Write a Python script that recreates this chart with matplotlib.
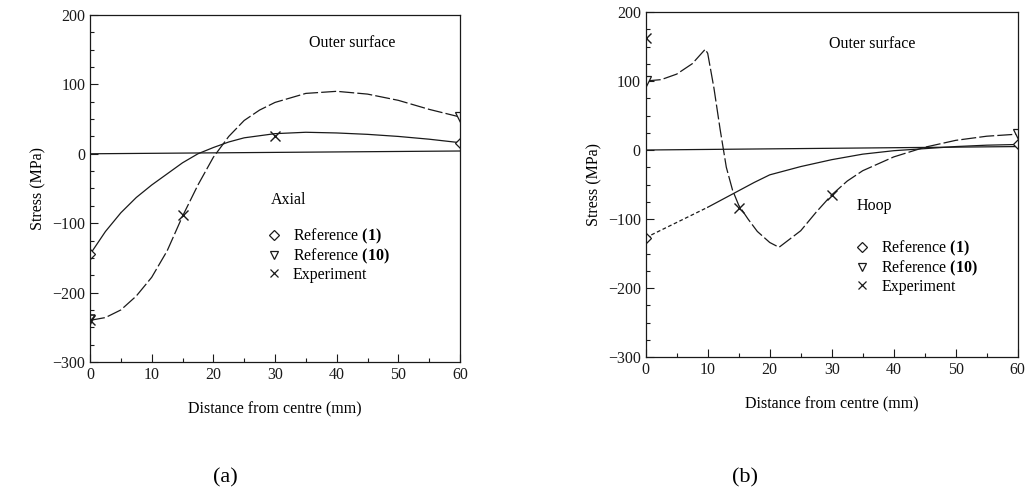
import matplotlib
matplotlib.use("Agg")
import matplotlib.pyplot as plt
from matplotlib.lines import Line2D
from matplotlib.ticker import MultipleLocator

plt.rcParams['font.family'] = ['Liberation Serif', 'DejaVu Serif']
plt.rcParams['mathtext.fontset'] = 'custom'
plt.rcParams['mathtext.bf'] = 'Liberation Serif:bold'
plt.rcParams['mathtext.rm'] = 'Liberation Serif'

INK = '#1a1a1a'
FS = 11.5

# (a) axial stress
a_ref1_x = [0, 2.5, 5, 7.5, 10, 12.5, 15, 17.5, 20, 22.5, 25, 30, 35, 40, 45, 50, 55, 60]
a_ref1_y = [-145, -112, -85, -63, -45, -29, -13, 0, 9, 17, 23, 29, 31, 30, 28, 25, 21, 16]
a_ref10_x = [0, 2.5, 5, 7.5, 10, 12.5, 15, 17.5, 20, 22.5, 25, 27.5, 30, 35, 40, 45, 50, 55, 60]
a_ref10_y = [-240, -236, -225, -205, -178, -140, -90, -45, -5, 25, 48, 63, 74, 87, 90, 86, 77, 64, 53]
a_exp_x = [0, 15, 30]
a_exp_y = [-240, -88, 25]
a_zero_y = [0, 4]

# (b) hoop stress
b_ref1_x = [0, 2.5, 5, 7.5, 10, 12.5, 15, 17.5, 20, 25, 30, 35, 40, 45, 50, 55, 60]
b_ref1_y = [-127, -116, -105, -94, -83, -71, -59, -47, -36, -24, -14, -6, -1, 2, 5, 7, 8]
b_ref10_x = [0, 2.5, 5, 7.5, 9.6, 10, 11, 12, 13, 14, 15, 16.5, 18, 20, 21.5,
             25, 27.5, 30, 32.5, 35, 40, 45, 50, 55, 60]
b_ref10_y = [100, 102, 110, 125, 146, 140, 90, 30, -25, -58, -80, -100, -118, -134, -141,
             -117, -90, -65, -45, -30, -10, 4, 14, 20, 23]
b_exp_x = [0, 15, 30]
b_exp_y = [162, -84, -65]
b_zero_y = [0, 5]

legend_labels = ['Reference $\\mathbf{(1)}$', 'Reference $\\mathbf{(10)}$', 'Experiment']


def style_axes(ax):
    ax.set_xlim(0, 60)
    ax.set_ylim(-300, 200)
    ax.xaxis.set_major_locator(MultipleLocator(10))
    ax.xaxis.set_minor_locator(MultipleLocator(5))
    ax.yaxis.set_major_locator(MultipleLocator(100))
    ax.yaxis.set_minor_locator(MultipleLocator(25))
    ax.tick_params(which='both', direction='in', colors=INK, labelsize=FS, width=0.8)
    ax.tick_params(which='major', length=6)
    ax.tick_params(which='minor', length=3)
    for s in ax.spines.values():
        s.set_linewidth(0.9)
        s.set_color(INK)
    ax.set_ylabel('Stress (MPa)', fontsize=FS, labelpad=4)
    ax.set_xlabel('Distance from centre (mm)', fontsize=FS, labelpad=13)


def draw_legend(ax, anchor):
    handles = [
        Line2D([], [], ls='none', marker='D', ms=5.5, mfc='none', mec=INK, mew=0.9),
        Line2D([], [], ls='none', marker='v', ms=6, mfc='none', mec=INK, mew=0.9),
        Line2D([], [], ls='none', marker='x', ms=5.5, mec=INK, mew=0.9),
    ]
    ax.legend(handles, legend_labels, loc='upper left', bbox_to_anchor=anchor,
              frameon=False, fontsize=FS, handlelength=1.0, handletextpad=0.7,
              labelspacing=0.05, borderpad=0, borderaxespad=0)


fig = plt.figure(figsize=(10.3, 4.96), dpi=100)
ax1 = fig.add_axes([0.0874, 0.2702, 0.3592, 0.6996])
ax2 = fig.add_axes([0.6269, 0.2802, 0.3612, 0.6956])

# panel (a)
ax1.plot([0, 60], a_zero_y, color=INK, lw=0.9)
ax1.plot(a_ref1_x, a_ref1_y, color=INK, lw=0.9)
ax1.plot(a_ref10_x, a_ref10_y, color=INK, lw=0.9, dashes=(12, 2.5))
ax1.plot(a_ref1_x[0], a_ref1_y[0], 'D', ms=5.5, mfc='white', mec=INK, mew=0.9)
ax1.plot(a_ref1_x[-1], a_ref1_y[-1], 'D', ms=5.5, mfc='white', mec=INK, mew=0.9)
ax1.plot(a_ref10_x[0], a_ref10_y[0], 'v', ms=6.5, mfc='white', mec=INK, mew=1.2)
ax1.plot(a_ref10_x[-1], a_ref10_y[-1], 'v', ms=6.5, mfc='white', mec=INK, mew=0.9)
ax1.plot(a_exp_x, a_exp_y, 'x', ms=6.5, mec=INK, mew=1.0, ls='none')
style_axes(ax1)
ax1.text(42.5, 160, 'Outer surface', ha='center', va='center', fontsize=FS)
ax1.text(29.3, -66, 'Axial', ha='left', va='center', fontsize=FS)
draw_legend(ax1, (0.475, 0.39))

# panel (b)
ax2.plot([0, 60], b_zero_y, color=INK, lw=0.9)
ax2.plot(b_ref1_x[:5], b_ref1_y[:5], color=INK, lw=0.9, dashes=(3, 2))
ax2.plot(b_ref1_x[4:], b_ref1_y[4:], color=INK, lw=0.9)
ax2.plot(b_ref10_x, b_ref10_y, color=INK, lw=0.9, dashes=(12, 2.5))
ax2.plot(b_ref1_x[0], b_ref1_y[0], 'D', ms=5.5, mfc='white', mec=INK, mew=0.9)
ax2.plot(b_ref1_x[-1], b_ref1_y[-1], 'D', ms=5.5, mfc='white', mec=INK, mew=0.9)
ax2.plot(b_ref10_x[0], b_ref10_y[0], 'v', ms=6.5, mfc='white', mec=INK, mew=0.9)
ax2.plot(b_ref10_x[-1], b_ref10_y[-1], 'v', ms=6.5, mfc='white', mec=INK, mew=0.9)
ax2.plot(b_exp_x, b_exp_y, 'x', ms=6.5, mec=INK, mew=1.0, ls='none')
style_axes(ax2)
ax2.text(36.5, 153, 'Outer surface', ha='center', va='center', fontsize=FS)
ax2.text(34.0, -81, 'Hoop', ha='left', va='center', fontsize=FS)
draw_legend(ax2, (0.56, 0.343))

fig.text(0.219, 0.036, '(a)', ha='center', va='center', fontsize=16)
fig.text(0.723, 0.036, '(b)', ha='center', va='center', fontsize=16)

fig.savefig('out.png', dpi=100)
